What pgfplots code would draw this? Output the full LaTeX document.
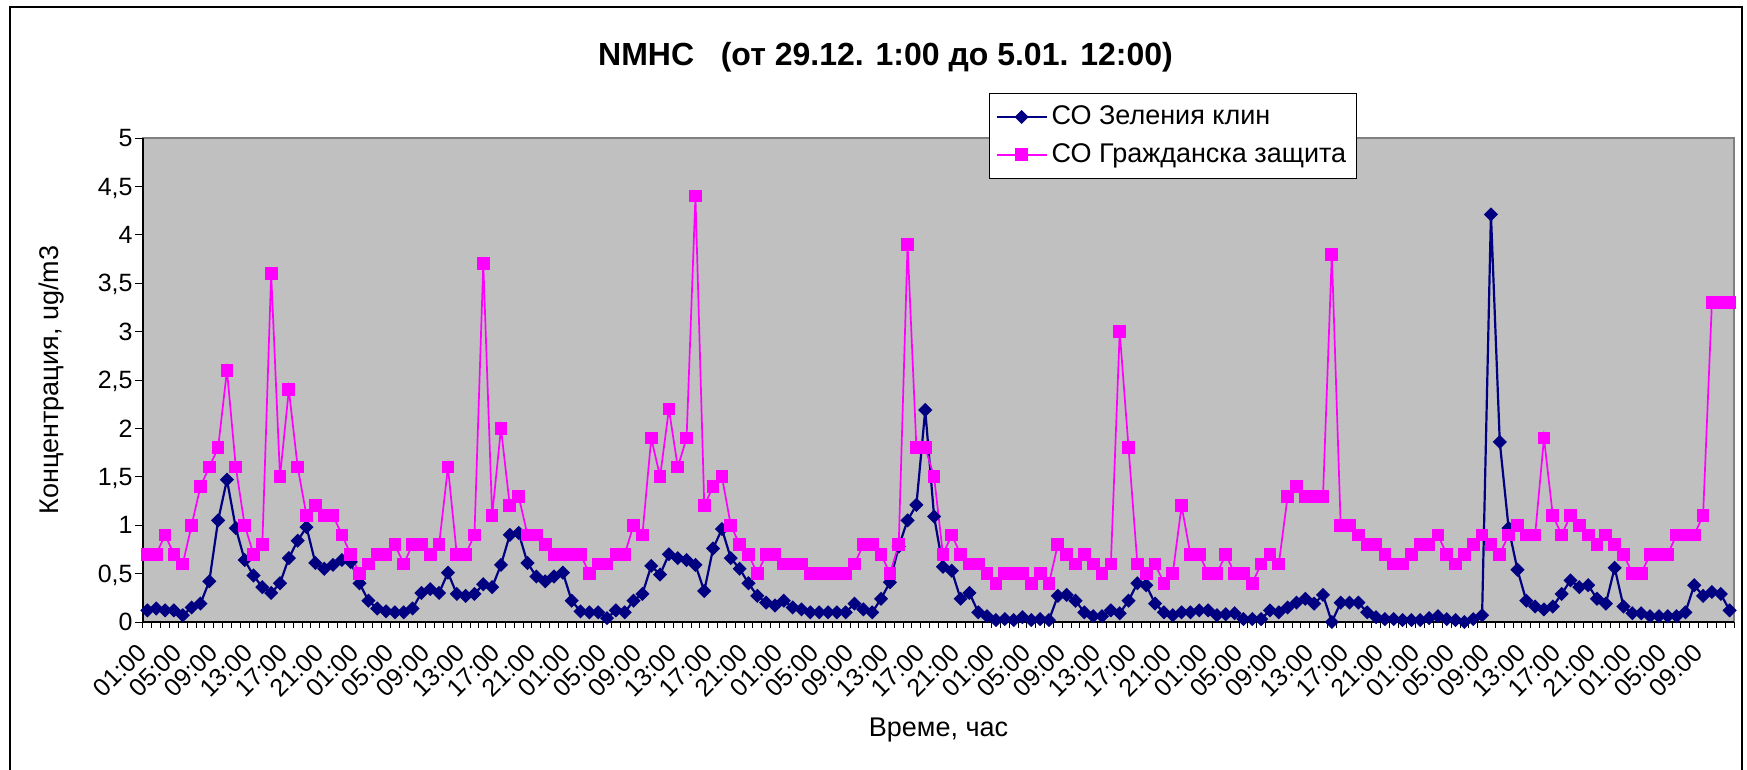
\documentclass[border=0pt]{standalone}
\usepackage{fontspec}
\setmainfont{Liberation Sans}
\usepackage{pgfplots}
\usepackage{pgfplotstable}
\pgfplotsset{compat=1.18}
\definecolor{cblue}{HTML}{000080}
\definecolor{cpink}{HTML}{FF00FF}
\definecolor{plotgray}{HTML}{C0C0C0}
\definecolor{bordergray}{HTML}{808080}

\pgfplotstableread{
i b p
0 0.12 0.7
1 0.14 0.7
2 0.12 0.9
3 0.12 0.7
4 0.07 0.6
5 0.15 1.0
6 0.19 1.4
7 0.42 1.6
8 1.05 1.8
9 1.47 2.6
10 0.97 1.6
11 0.64 1.0
12 0.48 0.7
13 0.36 0.8
14 0.30 3.6
15 0.40 1.5
16 0.66 2.4
17 0.84 1.6
18 0.98 1.1
19 0.61 1.2
20 0.55 1.1
21 0.59 1.1
22 0.64 0.9
23 0.62 0.7
24 0.40 0.5
25 0.22 0.6
26 0.14 0.7
27 0.11 0.7
28 0.10 0.8
29 0.10 0.6
30 0.14 0.8
31 0.30 0.8
32 0.34 0.7
33 0.30 0.8
34 0.51 1.6
35 0.29 0.7
36 0.27 0.7
37 0.29 0.9
38 0.39 3.7
39 0.36 1.1
40 0.59 2.0
41 0.90 1.2
42 0.92 1.3
43 0.61 0.9
44 0.47 0.9
45 0.42 0.8
46 0.47 0.7
47 0.51 0.7
48 0.22 0.7
49 0.11 0.7
50 0.10 0.5
51 0.10 0.6
52 0.04 0.6
53 0.12 0.7
54 0.10 0.7
55 0.22 1.0
56 0.29 0.9
57 0.58 1.9
58 0.49 1.5
59 0.70 2.2
60 0.66 1.6
61 0.64 1.9
62 0.59 4.4
63 0.32 1.2
64 0.76 1.4
65 0.96 1.5
66 0.66 1.0
67 0.55 0.8
68 0.40 0.7
69 0.27 0.5
70 0.20 0.7
71 0.17 0.7
72 0.22 0.6
73 0.15 0.6
74 0.13 0.6
75 0.10 0.5
76 0.10 0.5
77 0.10 0.5
78 0.10 0.5
79 0.10 0.5
80 0.19 0.6
81 0.13 0.8
82 0.10 0.8
83 0.24 0.7
84 0.41 0.5
85 0.78 0.8
86 1.05 3.9
87 1.21 1.8
88 2.19 1.8
89 1.09 1.5
90 0.57 0.7
91 0.53 0.9
92 0.24 0.7
93 0.30 0.6
94 0.10 0.6
95 0.06 0.5
96 0.02 0.4
97 0.03 0.5
98 0.02 0.5
99 0.05 0.5
100 0.02 0.4
101 0.03 0.5
102 0.02 0.4
103 0.27 0.8
104 0.28 0.7
105 0.22 0.6
106 0.10 0.7
107 0.06 0.6
108 0.06 0.5
109 0.12 0.6
110 0.09 3.0
111 0.22 1.8
112 0.40 0.6
113 0.38 0.5
114 0.19 0.6
115 0.10 0.4
116 0.07 0.5
117 0.10 1.2
118 0.10 0.7
119 0.12 0.7
120 0.12 0.5
121 0.07 0.5
122 0.08 0.7
123 0.09 0.5
124 0.03 0.5
125 0.03 0.4
126 0.03 0.6
127 0.12 0.7
128 0.10 0.6
129 0.15 1.3
130 0.20 1.4
131 0.24 1.3
132 0.19 1.3
133 0.28 1.3
134 0.00 3.8
135 0.20 1.0
136 0.20 1.0
137 0.20 0.9
138 0.10 0.8
139 0.05 0.8
140 0.03 0.7
141 0.03 0.6
142 0.02 0.6
143 0.02 0.7
144 0.02 0.8
145 0.04 0.8
146 0.06 0.9
147 0.03 0.7
148 0.02 0.6
149 0.00 0.7
150 0.03 0.8
151 0.07 0.9
152 4.21 0.8
153 1.86 0.7
154 0.97 0.9
155 0.54 1.0
156 0.22 0.9
157 0.16 0.9
158 0.13 1.9
159 0.16 1.1
160 0.29 0.9
161 0.43 1.1
162 0.36 1.0
163 0.38 0.9
164 0.24 0.8
165 0.19 0.9
166 0.56 0.8
167 0.16 0.7
168 0.09 0.5
169 0.09 0.5
170 0.06 0.7
171 0.06 0.7
172 0.06 0.7
173 0.06 0.9
174 0.10 0.9
175 0.38 0.9
176 0.27 1.1
177 0.31 3.3
178 0.29 3.3
179 0.12 3.3
}\data

\begin{document}
\begin{tikzpicture}
\useasboundingbox (-71.5bp,-74bp) rectangle (802bp,311bp);
\begin{axis}[
  at={(0,0)}, anchor=south west,
  scale only axis, width=795.5bp, height=242bp,
  xmin=-0.5, xmax=179.5, ymin=0, ymax=5,
  clip=false,
  axis background/.style={fill=plotgray, draw=bordergray, line width=0.6bp},
  axis x line*=bottom, axis y line*=left,
  axis line style={black, line width=0.6bp},
  tick align=outside,
  major tick length=4bp, minor tick length=3bp,
  every tick/.style={black, line width=0.5bp},
  ytick={0,0.5,...,5},
  ytick pos=left,
  xtick={0,4,...,176},
  major x tick style={draw=none},
  minor xtick={-0.5,0.5,...,179.5},
  xticklabels={01:00,05:00,09:00,13:00,17:00,21:00,01:00,05:00,09:00,13:00,17:00,21:00,01:00,05:00,09:00,13:00,17:00,21:00,01:00,05:00,09:00,13:00,17:00,21:00,01:00,05:00,09:00,13:00,17:00,21:00,01:00,05:00,09:00,13:00,17:00,21:00,01:00,05:00,09:00,13:00,17:00,21:00,01:00,05:00,09:00},
  xticklabel style={font=\fontsize{12.5bp}{14bp}\selectfont, xshift=-2.5bp, yshift=-9bp, rotate=45, anchor=east, inner sep=0pt},
  yticklabel style={font=\fontsize{12.5bp}{14bp}\selectfont, inner sep=1bp, text depth=0pt},
  /pgf/number format/.cd, use comma, assume math mode=true, /pgfplots/.cd,
  title={NMHC\ \ \ (от 29.12. 1:00 до 5.01. 12:00)},
  title style={font=\fontsize{16bp}{19bp}\selectfont\bfseries, at={(axis description cs:0.4667,1.143)}, anchor=center},
  xlabel={Време, час},
  xlabel style={font=\fontsize{13.5bp}{15bp}\selectfont, at={(axis description cs:0.5,-0.2231)}, anchor=center},
  ylabel={Концентрация, ug/m3},
  ylabel style={font=\fontsize{13.5bp}{15bp}\selectfont, at={(axis description cs:-0.0572,0.5)}, anchor=center},
  legend style={at={(axis description cs:0.5317,1.094)}, anchor=north west, draw=black, line width=0.6bp, fill=white,
    font=\fontsize{13.5bp}{15bp}\selectfont, inner xsep=3bp, inner ysep=4.5bp, row sep=4bp},
  legend cell align=left,
  legend image code/.code={\draw[mark repeat=2,mark phase=2,#1] plot coordinates {(0bp,0bp) (12.5bp,0bp) (25bp,0bp)};},
]
\addplot[color=cblue, line width=1.1bp, mark=square*, mark size=1.95bp, mark options={rotate=45, solid, fill=cblue}] table[x=i,y=b] {\data};
\addplot[color=cpink, line width=0.85bp, mark=square*, mark size=2.75bp, mark options={solid, fill=cpink}] table[x=i,y=p] {\data};
\legend{СО Зеления клин, СО Гражданска защита}
\end{axis}
\draw[line width=0.75bp] (-66.5bp,-100bp) rectangle (799.5bp,307.5bp);
\end{tikzpicture}
\end{document}
